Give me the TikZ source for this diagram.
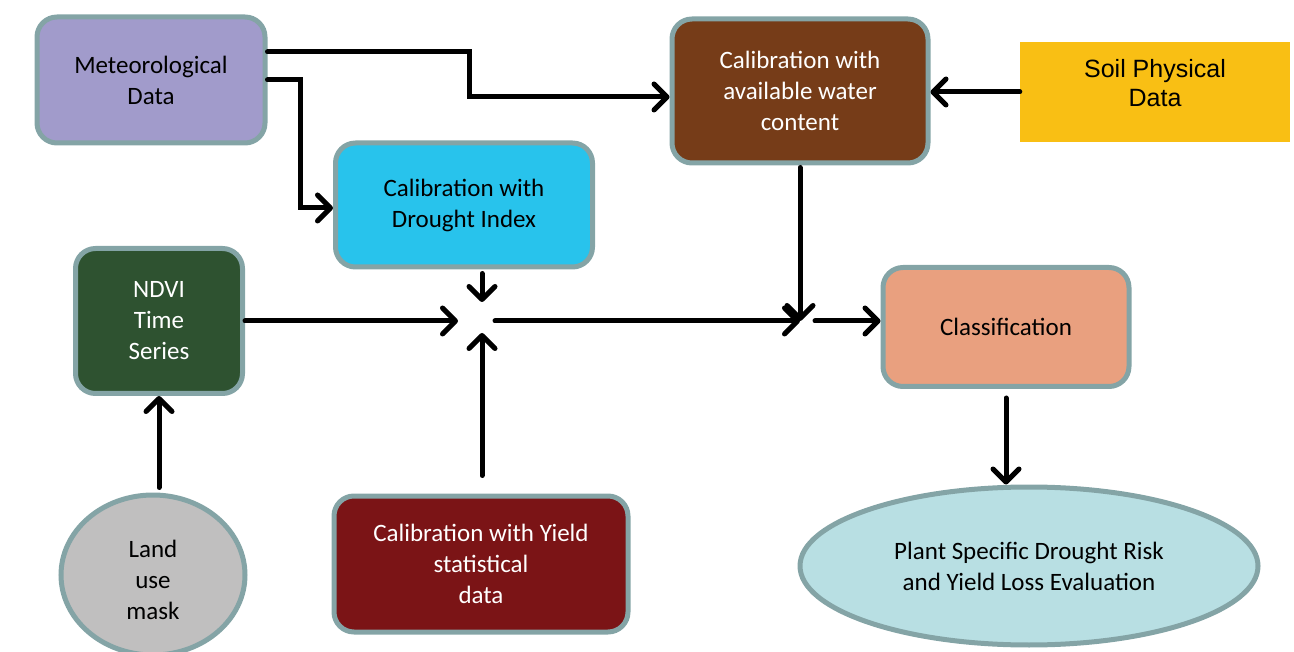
\documentclass[tikz,border=0pt]{standalone}
\usepackage{fontspec}
\setmainfont{Carlito}
\newfontfamily\arialf{Liberation Sans}
\usetikzlibrary{arrows.meta,shapes.geometric,calc}
\definecolor{bordc}{HTML}{84A4A6}
\definecolor{metc}{HTML}{A19BCB}
\definecolor{calwc}{HTML}{763C18}
\definecolor{soilc}{HTML}{F9BF14}
\definecolor{droughtc}{HTML}{28C3EC}
\definecolor{ndvic}{HTML}{2E5230}
\definecolor{classc}{HTML}{E9A07F}
\definecolor{yieldc}{HTML}{7B1416}
\definecolor{landc}{HTML}{C0BFBF}
\definecolor{plantc}{HTML}{B8DFE3}
\tikzset{
  box/.style={draw=bordc, line width=5pt, rounded corners=20pt, align=center,
    font=\fontsize{25}{31}\selectfont, inner sep=0pt},
  oval/.style={ellipse, draw=bordc, line width=5pt, align=center,
    font=\fontsize{25}{31}\selectfont, inner sep=0pt},
  arr/.style={line width=5pt, line cap=round, line join=miter,
    -{Straight Barb[length=13pt,width=26pt,line cap=round,line join=round]}},
}
\begin{document}
\begin{tikzpicture}[x=1pt,y=-1pt]
\useasboundingbox (0,0) rectangle (1294,652);
% nodes
\node[box, fill=metc, minimum width=228pt, minimum height=126pt] (met) at (151,80) {Meteorological\\Data};
\node[box, fill=calwc, text=white, minimum width=256pt, minimum height=144pt] (calw) at (800,91) {Calibration with\\available water\\content};
\node[fill=soilc, minimum width=270pt, minimum height=100pt, inner sep=0pt] (soil) at (1155,92) {};
\node[font=\arialf\fontsize{25}{29}\selectfont, align=center, inner sep=0pt] (soiltext) at (1155,83) {Soil Physical\\Data};
\node[box, fill=droughtc, minimum width=257pt, minimum height=124pt] (drought) at (464,205) {Calibration with\\Drought Index};
\node[box, fill=ndvic, text=white, minimum width=167pt, minimum height=145pt] (ndvi) at (159,321) {NDVI\\Time\\Series};
\node[box, fill=classc, minimum width=246pt, minimum height=119pt] (class) at (1006,327) {Classification};
\node[box, fill=yieldc, text=white, minimum width=294pt, minimum height=136pt] (yield) at (481,564) {Calibration with Yield\\statistical\\data};
\node[oval, fill=landc, minimum width=184pt, minimum height=160pt] (land) at (153,575) {};
\node[align=center, font=\fontsize{25}{31}\selectfont, inner sep=0pt] (landtext) at (153,580) {Land\\use\\mask};
\node[oval, fill=plantc, minimum width=458pt, minimum height=158pt] (plant) at (1029,566) {Plant Specific Drought Risk\\and Yield Loss Evaluation};
% junctions
\coordinate (j1) at (482,321);
\coordinate (j2) at (800,321);
% connectors
\draw[arr] ([yshift=28pt]met.east) -- ++(202pt,0) |- ([yshift=-6pt]calw.west);
\draw[arr] (met.east) -- ++(33pt,0) |- ([yshift=-3pt]drought.west);
\draw[arr] (soil.west) -- (calw.east |- soil.west);
\draw[arr, shorten <=2pt] (calw.south) -- (j2);
\draw[arr, shorten <=4pt] (drought.south -| j1) -- ([yshift=19pt]j1);
\draw[arr] (ndvi.east) -- ([xshift=-24pt]j1);
\draw[arr, shorten <=18pt] (yield.north -| j1) -- ([yshift=-12pt]j1);
\draw[arr] ([xshift=13pt]j1) -- (j2);
\draw[arr] ([xshift=15pt]j2) -- (class.west |- j2);
\draw[arr, shorten <=9pt] (class.south) -- (class.south |- plant.north);
\draw[arr, shorten <=5pt] (ndvi.south |- land.north) -- (ndvi.south);
\end{tikzpicture}
\end{document}
